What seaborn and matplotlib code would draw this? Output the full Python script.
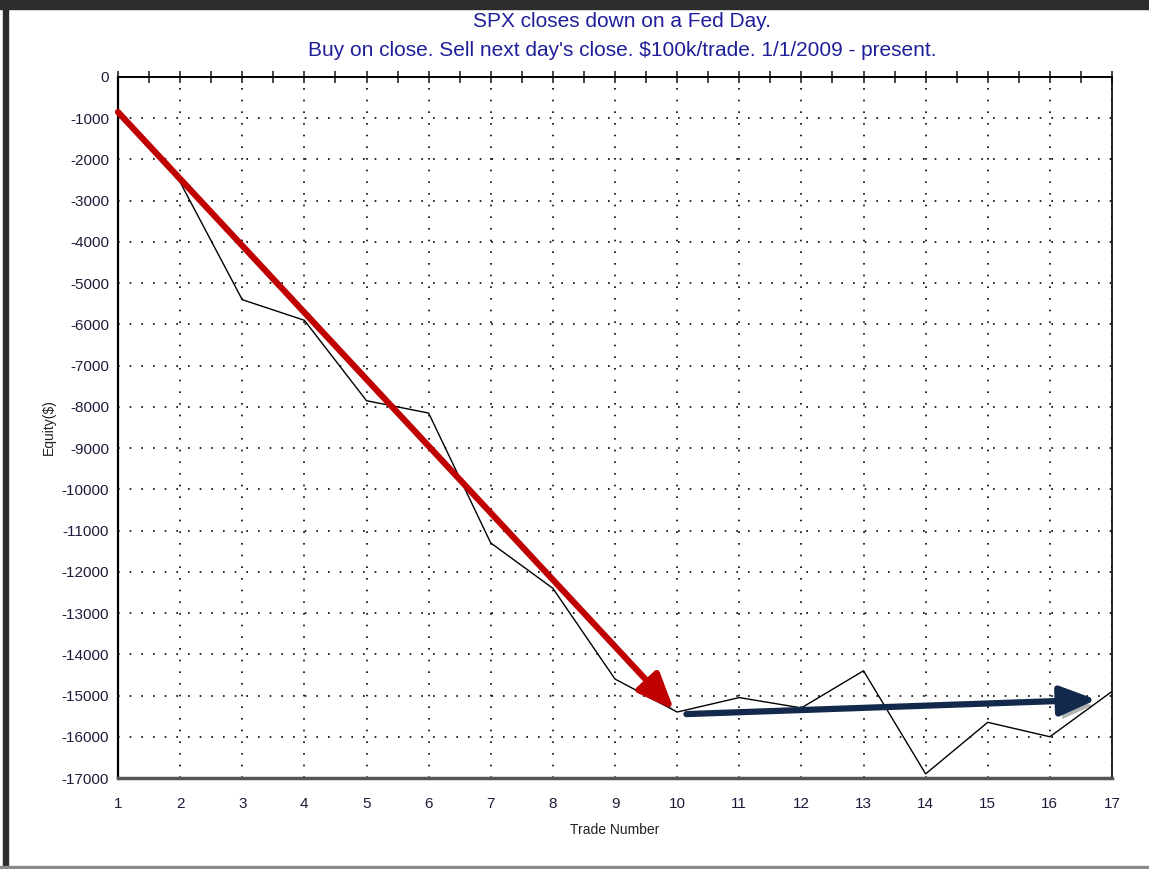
import numpy as np
import pandas as pd
import seaborn as sns
import matplotlib.pyplot as plt
import matplotlib.patheffects as pe
from matplotlib.patches import Rectangle
from matplotlib.ticker import MultipleLocator

# equity curve
trade_number = list(range(1, 18))
equity = [-900, -2550, -5400, -5900, -7850, -8150, -11300, -12400, -14600,
          -15400, -15050, -15300, -14400, -16900, -15650, -16000, -14900]

# hand-drawn trend arrows (start, end) in data units
red_arrow = [(1.0, -850), (9.95, -15350)]
blue_arrow = [(10.15, -15450), (16.75, -15100)]

TITLE = "SPX closes down on a Fed Day.\nBuy on close. Sell next day's close. $100k/trade. 1/1/2009 - present."

df = pd.DataFrame({"trade": trade_number, "equity": equity})

sns.set_style("white")
plt.rcParams["font.family"] = ["Liberation Sans", "DejaVu Sans"]
plt.rcParams["axes.unicode_minus"] = False

fig = plt.figure(figsize=(11.49, 8.69), dpi=100)
ax = fig.add_axes([118 / 1149, 1 - 778 / 869, (1112 - 118) / 1149, (778 - 77) / 869])

sns.lineplot(data=df, x="trade", y="equity", color="black", linewidth=1.0, ax=ax, zorder=3)

ax.set_xlim(1, 17)
ax.set_ylim(-17000, 0)
ax.xaxis.set_major_locator(MultipleLocator(1))
ax.yaxis.set_major_locator(MultipleLocator(1000))
ax.yaxis.set_minor_locator(MultipleLocator(500))
ax.grid(True, which="major", color="black", linestyle=(0, (1, 6)), linewidth=1.2)

label_color = "#1c1c3a"
ax.tick_params(axis="x", which="major", length=0, pad=14, labelsize=11, labelcolor=label_color)
ax.tick_params(axis="y", which="both", direction="inout", length=9, width=1.2, color="black",
               labelsize=11, labelcolor=label_color, pad=2)

# ticks along the top edge every half trade
top = ax.secondary_xaxis("top")
top.xaxis.set_major_locator(MultipleLocator(0.5))
top.tick_params(direction="inout", length=9, width=1.2, labeltop=False)
top.spines["top"].set_visible(False)

for side in ["left", "top", "right"]:
    ax.spines[side].set_color("black")
ax.spines["left"].set_linewidth(1.6)
ax.spines["top"].set_linewidth(1.4)
ax.spines["right"].set_linewidth(1.2)
ax.spines["bottom"].set_color("#555555")
ax.spines["bottom"].set_linewidth(2.5)

ax.set_xlabel("Trade Number", fontsize=10, color="#222222", labelpad=8)
ax.set_ylabel("Equity($)", fontsize=10, color="#222222", labelpad=4)

fig.text(622 / 1149, 1 - 36 / 869, TITLE, ha="center", va="center", fontsize=15,
         color="#1f1f9a", linespacing=1.7)

shadow = [pe.SimplePatchShadow(offset=(3, -4), shadow_rgbFace="black", alpha=0.3), pe.Normal()]
head = "-|>,head_length=2.2,head_width=0.9"
ax.annotate("", xy=red_arrow[1], xytext=red_arrow[0],
            arrowprops=dict(arrowstyle=head, color="#c00000", lw=4.5,
                            shrinkA=0, shrinkB=0, path_effects=shadow), zorder=4)
ax.annotate("", xy=blue_arrow[1], xytext=blue_arrow[0],
            arrowprops=dict(arrowstyle=head, color="#13294b", lw=4.5,
                            shrinkA=0, shrinkB=0, path_effects=shadow), zorder=4)

# window frame of the screenshot
fig.patches.append(Rectangle((0, 1 - 9 / 869), 1, 9 / 869, transform=fig.transFigure,
                             color="#2d2d2d", zorder=0))
fig.patches.append(Rectangle((3 / 1149, 0), 5 / 1149, 1, transform=fig.transFigure,
                             color="#2d2d2d", zorder=0))
fig.patches.append(Rectangle((0, 1 - 868 / 869), 1, 2 / 869, transform=fig.transFigure,
                             color="#8a8a8a", zorder=0))

fig.savefig("out.png", dpi=100)
